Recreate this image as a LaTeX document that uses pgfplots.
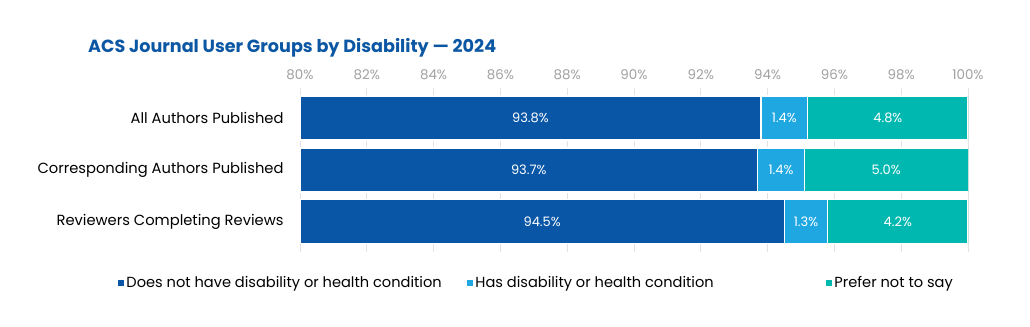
\documentclass[border=0pt]{standalone}
\usepackage{pgfplots}
\pgfplotsset{compat=1.18}
\usepackage{pgfplotstable}
\usepackage{fontspec}
\setmainfont{Poppins}
\definecolor{cDark}{HTML}{0956A6}
\definecolor{cLight}{HTML}{1EA7E1}
\definecolor{cTeal}{HTML}{00B8B0}
\definecolor{cTitle}{HTML}{0B57A4}
\definecolor{cTick}{HTML}{A0A0A0}
\definecolor{cGrid}{HTML}{E3E3E3}
\pgfplotstableread{
cat no has pref
0 93.8 1.4 4.8
1 93.7 1.4 5.0
2 94.5 1.3 4.2
}\data
\begin{document}
\begin{tikzpicture}
\path[use as bounding box] (0,0) rectangle (1030bp,-327bp);
\node[anchor=base west, text=cTitle, font=\fontsize{17.6bp}{20bp}\selectfont\bfseries, inner sep=0] at (88bp,-52bp) {ACS Journal User Groups by Disability — 2024};
\pgfplotsset{base/.style={
 at={(300bp,-87.8bp)}, anchor=north west,
 width=668bp, height=164bp, scale only axis,
 xmin=80, xmax=100, ymin=-0.58, ymax=2.58, y dir=reverse}}
\begin{axis}[base,
 xbar stacked, bar width=44bp,
 xtick={80,82,...,100},
 xticklabel={\pgfmathprintnumber[fixed]{\tick}\%},
 xticklabel pos=upper,
 xticklabel style={text=cTick, font=\fontsize{13.4bp}{15bp}\selectfont, yshift=5bp},
 /pgf/number format/assume math mode=true,
 ytick={0,1,2},
 yticklabels={All Authors Published, Corresponding Authors Published, Reviewers Completing Reviews},
 yticklabel style={font=\fontsize{14.7bp}{17bp}\selectfont, text=black, xshift=-13bp},
 major tick length=0,
 axis line style={draw=none},
 xmajorgrids, grid style={cGrid, line width=0.8bp},
 legend columns=3,
 legend style={at={(-0.272,-0.19)}, anchor=west, draw=none, inner sep=0pt,
   font=\fontsize{14.6bp}{17bp}\selectfont,
   /tikz/every even column/.style={column sep=3bp}},
 legend image code/.code={\fill[#1, draw=none] (0bp,-3bp) rectangle (6bp,3bp);},
]
\addplot[fill=cDark, draw=white, line width=1.5bp] table[x=no, y=cat]{\data};
\addlegendentry{\makebox[336bp][l]{Does not have disability or health condition}}
\addplot[fill=cLight, draw=white, line width=1.5bp] table[x=has, y=cat]{\data};
\addlegendentry{\makebox[346bp][l]{Has disability or health condition}}
\addplot[fill=cTeal, draw=white, line width=1.5bp] table[x=pref, y=cat]{\data};
\addlegendentry{Prefer not to say}
\end{axis}
\begin{axis}[base, hide axis,
 point meta=explicit symbolic,
 nodes near coords={\pgfplotspointmeta\%},
 every node near coord/.style={anchor=center, text=white, font=\fontsize{13bp}{15bp}\selectfont},
]
\addplot[draw=none, mark=none] table[x expr={(\thisrow{no}+80)/2}, y=cat, meta=no]{\data};
\addplot[draw=none, mark=none] table[x expr={\thisrow{no}+\thisrow{has}/2}, y=cat, meta=has]{\data};
\addplot[draw=none, mark=none] table[x expr={(\thisrow{no}+\thisrow{has}+100)/2}, y=cat, meta=pref]{\data};
\end{axis}
\end{tikzpicture}
\end{document}
